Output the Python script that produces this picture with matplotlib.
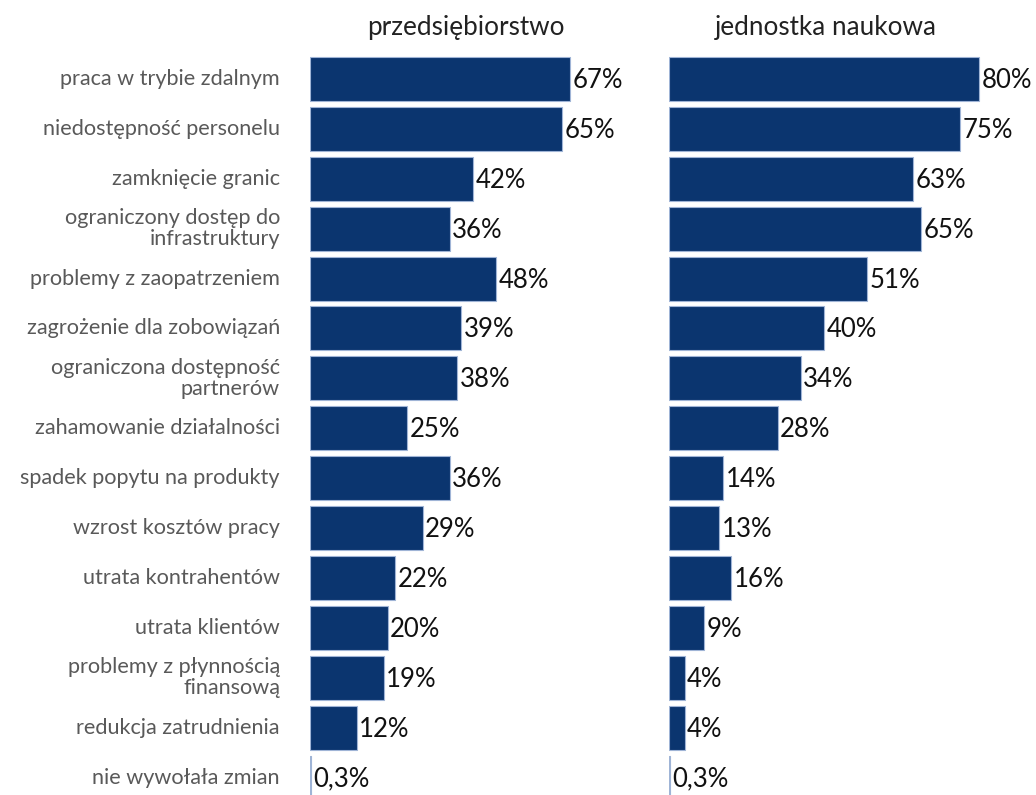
import matplotlib.pyplot as plt

# data
labels = [
    "praca w trybie zdalnym",
    "niedostępność personelu",
    "zamknięcie granic",
    "ograniczony dostęp do\ninfrastruktury",
    "problemy z zaopatrzeniem",
    "zagrożenie dla zobowiązań",
    "ograniczona dostępność\npartnerów",
    "zahamowanie działalności",
    "spadek popytu na produkty",
    "wzrost kosztów pracy",
    "utrata kontrahentów",
    "utrata klientów",
    "problemy z płynnością\nfinansową",
    "redukcja zatrudnienia",
    "nie wywołała zmian",
]
firms = [67, 65, 42, 36, 48, 39, 38, 25, 36, 29, 22, 20, 19, 12, 0.3]
science = [80, 75, 63, 65, 51, 40, 34, 28, 14, 13, 16, 9, 4, 4, 0.3]
titles = ["przedsiębiorstwo", "jednostka naukowa"]

BAR = "#0b356f"
EDGE = "#9fb4d6"
plt.rcParams['font.family'] = ['Lato', 'DejaVu Sans']

W, H = 1036, 795
fig = plt.figure(figsize=(W / 100, H / 100), dpi=100)

row_px = 49.9
top_px = 54
n_rows = (H - top_px) / row_px

def fmt(v):
    s = "{:g}%".format(v)
    return s.replace(".", ",")

panels = [(310, firms, 466), (669, science, 826)]
for i, (x0, vals, tx) in enumerate(panels):
    ax = fig.add_axes([x0 / W, 0, 350 / W, (H - top_px) / H])
    ypos = list(range(len(vals)))
    ax.barh(ypos, vals, height=0.88, color=BAR, edgecolor=EDGE, linewidth=0.8)
    ax.set_xlim(0, 350 / 3.88)
    ax.set_ylim(-0.5 + n_rows, -0.5)
    for y, v in zip(ypos, vals):
        ax.text(v + 0.6, y + 0.03, fmt(v), va="center", ha="left",
                fontsize=18.5, color="#111111")
    for s in ax.spines.values():
        s.set_visible(False)
    ax.set_xticks([])
    ax.set_yticks([])
    fig.text(tx / W, 1 - 27 / H, titles[i], ha="center", va="center",
             fontsize=18.8, color="#222222")

# category labels on the left
for y, lab in enumerate(labels):
    yc = top_px + row_px * (y + 0.5)
    fig.text(280 / W, 1 - yc / H, lab, ha="right", va="center",
             fontsize=15.6, color="#595959", linespacing=1.08)

fig.savefig("out.png", dpi=100)
